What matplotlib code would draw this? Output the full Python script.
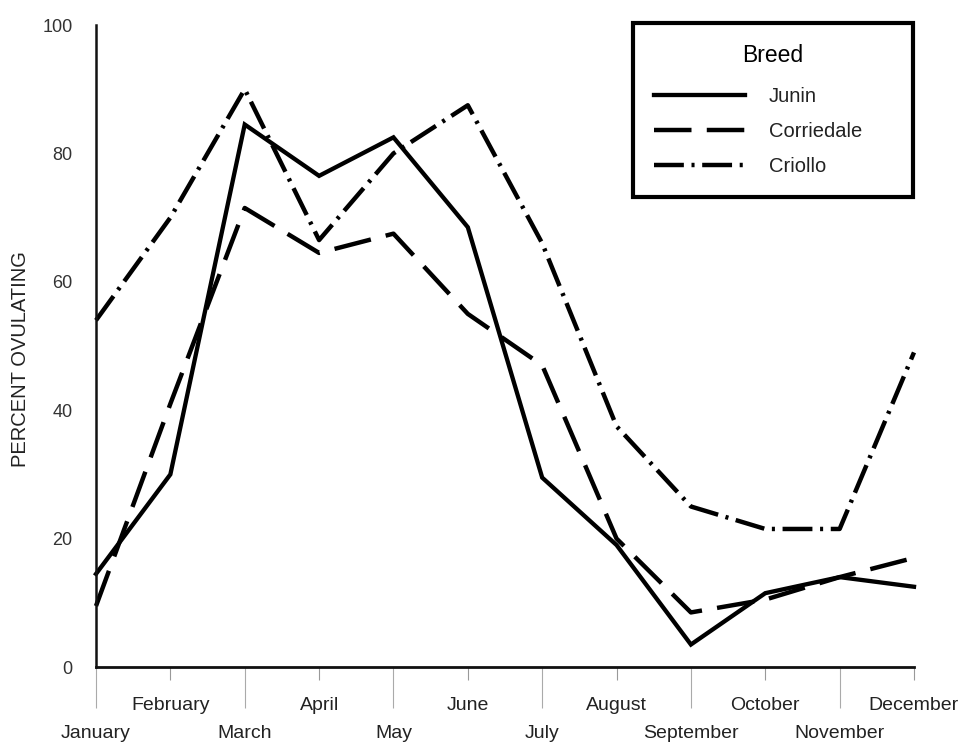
import matplotlib
matplotlib.use("Agg")
import matplotlib.pyplot as plt
from matplotlib.ticker import FixedLocator, FixedFormatter

plt.rcParams['font.family'] = ['Liberation Sans', 'DejaVu Sans']
plt.rcParams['lines.scale_dashes'] = False

months = ['January', 'February', 'March', 'April', 'May', 'June', 'July',
          'August', 'September', 'October', 'November', 'December']
junin = [14.5, 30, 84.5, 76.5, 82.5, 68.5, 29.5, 19, 3.5, 11.5, 14, 12.5]
corriedale = [9.5, 41, 71.5, 64.5, 67.5, 55, 47, 20, 8.5, 10.5, 14, 17]
criollo = [54, 70, 90, 66.5, 80, 87.5, 66, 37.5, 25, 21.5, 21.5, 49]
yticks = [0, 20, 40, 60, 80, 100]

fig = plt.figure(figsize=(9.67, 7.45), dpi=100)
ax = fig.add_axes([96/967, 1-667/745, 818/967, 642/745])

x = list(range(len(months)))
ax.plot(x, junin, color='black', lw=3.1, solid_joinstyle='miter', label='Junin', clip_on=False)
ax.plot(x, corriedale, color='black', lw=3.2, linestyle=(0, (27, 11)),
        dash_capstyle='butt', label='Corriedale', clip_on=False)
ax.plot(x, criollo, color='black', lw=3.2, linestyle=(0, (21.5, 5.5, 2.2, 5.5)),
        dash_capstyle='butt', label='Criollo', clip_on=False)

ax.set_xlim(0, 11)
ax.set_ylim(0, 100)
for s in ['top', 'right']:
    ax.spines[s].set_visible(False)
ax.spines['left'].set_linewidth(1.8)
ax.spines['bottom'].set_linewidth(2.0)
ax.spines['left'].set_color('#111111')
ax.spines['bottom'].set_color('#111111')

ax.xaxis.set_major_locator(FixedLocator(x[0::2]))
ax.xaxis.set_major_formatter(FixedFormatter(months[0::2]))
ax.xaxis.set_minor_locator(FixedLocator(x[1::2]))
ax.xaxis.set_minor_formatter(FixedFormatter(months[1::2]))
ax.tick_params(axis='x', which='major', length=29.5, width=0.8, color='#aaaaaa',
               pad=12, labelsize=14, labelcolor='#222222')
ax.tick_params(axis='x', which='minor', length=9.4, width=0.8, color='#999999',
               pad=12, labelsize=14, labelcolor='#222222')

ax.set_yticks(yticks)
ax.tick_params(axis='y', length=0, pad=17, labelsize=13, labelcolor='#333333')
ax.set_ylabel('PERCENT OVULATING', fontsize=14.5, color='#222222')
ax.yaxis.set_label_coords(-0.081, 0.48)

leg = ax.legend(title='Breed', loc='upper left',
                bbox_to_anchor=(0.6565, 0.735, 0.3423, 0.268), mode='expand',
                borderaxespad=0, fancybox=False, edgecolor='black',
                fontsize=14.5, title_fontsize=16.5, handlelength=4.5,
                handletextpad=1.2, labelspacing=0.8, borderpad=1.05)
leg._legend_box.sep = 14
leg.get_frame().set_linewidth(3.0)
leg.get_frame().set_alpha(1)
for t in leg.get_texts():
    t.set_color('#222222')

fig.savefig('out.png', dpi=100)
